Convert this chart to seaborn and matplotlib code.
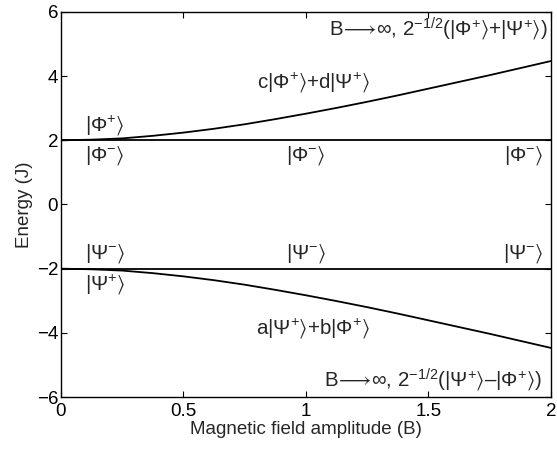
import numpy as np
import pandas as pd
import matplotlib
matplotlib.use("Agg")
import matplotlib.pyplot as plt
import seaborn as sns

# Field amplitude samples and the energy levels read at them
field_B = [0.0, 0.125, 0.25, 0.375, 0.5, 0.625, 0.75, 0.875, 1.0,
           1.125, 1.25, 1.375, 1.5, 1.625, 1.75, 1.875, 2.0]
upper_mixed = [2.00, 2.02, 2.06, 2.14, 2.24, 2.36, 2.50, 2.66, 2.83,
               3.01, 3.20, 3.40, 3.61, 3.82, 4.03, 4.25, 4.47]
lower_mixed = [-2.00, -2.02, -2.06, -2.14, -2.24, -2.36, -2.50, -2.66, -2.83,
               -3.01, -3.20, -3.40, -3.61, -3.82, -4.03, -4.25, -4.47]
phi_minus = [2.0] * len(field_B)
psi_minus = [-2.0] * len(field_B)

x_ticks = [0, 0.5, 1, 1.5, 2]
x_tick_labels = ["0", "0.5", "1", "1.5", "2"]
y_ticks = [-6, -4, -2, 0, 2, 4, 6]
y_tick_labels = ["\u22126", "\u22124", "\u22122", "0", "2", "4", "6"]

sns.set_style("white")
plt.rcParams["font.family"] = ["Liberation Sans", "DejaVu Sans"]
plt.rcParams["mathtext.fontset"] = "custom"
plt.rcParams["mathtext.rm"] = "Liberation Sans"
plt.rcParams["mathtext.it"] = "Liberation Sans"
plt.rcParams["mathtext.bf"] = "Liberation Sans:bold"
plt.rcParams["mathtext.sf"] = "Liberation Sans"
plt.rcParams["mathtext.fallback"] = "stixsans"

df = pd.DataFrame({
    "B": field_B * 4,
    "E": upper_mixed + phi_minus + psi_minus + lower_mixed,
    "level": (["upper"] * len(field_B) + ["phi"] * len(field_B)
              + ["psi"] * len(field_B) + ["lower"] * len(field_B)),
})

fig = plt.figure(figsize=(5.57, 4.53), dpi=100)
ax = fig.add_axes([0.1095, 0.1236, 0.8795, 0.85])

sns.lineplot(data=df, x="B", y="E", units="level", estimator=None,
             color="black", linewidth=1.3, ax=ax, legend=False)

fs = 13.5
afs = 14.8

ax.set_xlim(0, 2)
ax.set_ylim(-6, 6)
ax.set_xticks(x_ticks)
ax.set_xticklabels(x_tick_labels)
ax.set_yticks(y_ticks)
ax.set_yticklabels(y_tick_labels)
ax.tick_params(direction="in", length=4, width=0.8, labelsize=fs,
               top=True, right=True, bottom=True, left=True, colors="black")
ax.tick_params(axis="x", pad=4)
ax.tick_params(axis="y", pad=2)
for s in ax.spines.values():
    s.set_visible(True)
    s.set_color("black")
    s.set_linewidth(1.0)

ax.set_xlabel("Magnetic field amplitude (B)", fontsize=fs, labelpad=1)
ax.set_ylabel("Energy (J)", fontsize=fs, labelpad=3)

ket_phi_p = r"$|\Phi^{+}\rangle$"
ket_phi_m = r"$|\Phi^{-}\rangle$"
ket_psi_p = r"$|\Psi^{+}\rangle$"
ket_psi_m = r"$|\Psi^{-}\rangle$"

ax.text(0.1, 2.1, ket_phi_p, fontsize=afs, ha="left", va="bottom")
ax.text(0.1, 1.88, ket_phi_m, fontsize=afs, ha="left", va="top")
ax.text(1.0, 1.88, ket_phi_m, fontsize=afs, ha="center", va="top")
ax.text(1.97, 1.88, ket_phi_m, fontsize=afs, ha="right", va="top")

ax.text(0.1, -1.9, ket_psi_m, fontsize=afs, ha="left", va="bottom")
ax.text(1.0, -1.9, ket_psi_m, fontsize=afs, ha="center", va="bottom")
ax.text(1.97, -1.9, ket_psi_m, fontsize=afs, ha="right", va="bottom")
ax.text(0.1, -2.12, ket_psi_p, fontsize=afs, ha="left", va="top")

ax.text(1.03, 3.82, r"c$|\Phi^{+}\rangle$+d$|\Psi^{+}\rangle$",
        fontsize=afs, ha="center", va="center")
ax.text(1.03, -3.84, r"a$|\Psi^{+}\rangle$+b$|\Phi^{+}\rangle$",
        fontsize=afs, ha="center", va="center")

limit_prefix = r"B$\!\longrightarrow\!$" + "\u221e, "
ax.text(1.985, 5.47,
        limit_prefix + r"$2^{-1/2}(|\Phi^{+}\rangle$+$|\Psi^{+}\rangle)$",
        fontsize=afs, ha="right", va="center")
ax.text(1.965, -5.47,
        limit_prefix + r"$2^{-1/2}(|\Psi^{+}\rangle$" + "\u2013"
        + r"$|\Phi^{+}\rangle)$",
        fontsize=afs, ha="right", va="center")

fig.savefig("out.png", dpi=100, facecolor="white")
